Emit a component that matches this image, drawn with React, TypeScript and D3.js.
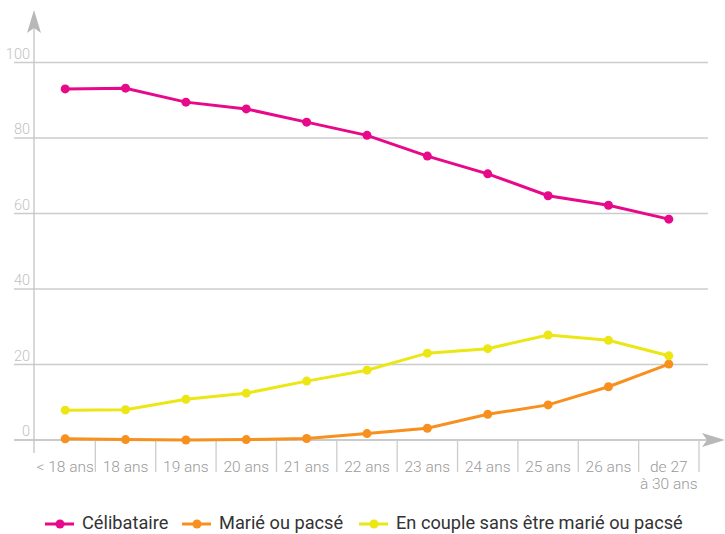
import * as d3 from "d3";

const categories = [
  "< 18 ans", "18 ans", "19 ans", "20 ans", "21 ans", "22 ans",
  "23 ans", "24 ans", "25 ans", "26 ans", "de 27|à 30 ans",
];
const celibataire = [93.0, 93.2, 89.5, 87.7, 84.2, 80.7, 75.2, 70.5, 64.7, 62.2, 58.5];
const marie = [0.3, 0.1, 0.0, 0.1, 0.4, 1.7, 3.1, 6.8, 9.3, 14.1, 20.1];
const enCouple = [7.9, 8.0, 10.8, 12.4, 15.6, 18.5, 23.0, 24.2, 27.8, 26.4, 22.3];
const yTicks = [0, 20, 40, 60, 80, 100];

const seriesList = [
  { name: "Célibataire", values: celibataire, color: "#e8088a" },
  { name: "Marié ou pacsé", values: marie, color: "#f7901e" },
  { name: "En couple sans être marié ou pacsé", values: enCouple, color: "#ece615" },
];

const W = 725;
const H = 534;
const font = "Roboto, 'DejaVu Sans', sans-serif";

export default function App() {
  const x = d3.scaleBand<string>().domain(categories).range([35, 699]);
  const y = d3.scaleLinear().domain([0, 100]).range([440, 62.5]);
  const cx = (i: number) => (x(categories[i]) ?? 0) + x.bandwidth() / 2;

  const line = d3.line<number>()
    .x((_, i) => cx(i))
    .y(d => y(d));

  const legendX = [45, 182, 359];

  return (
    <svg width={W} height={H} style={{ position: "absolute", left: 0, top: 0, background: "#fff" }}>
      {/* grid */}
      {yTicks.map(t => (
        <g key={t}>
          <line x1={14} x2={708} y1={y(t)} y2={y(t)} stroke="#cccccc" strokeWidth={1.3} />
          <text x={30} y={y(t) - 4} textAnchor="end" fontFamily={font} fontWeight={300}
            fontSize={14.5} fill="#c2c2c2">{t}</text>
        </g>
      ))}

      {/* y axis with arrow */}
      <line x1={34} x2={34} y1={26} y2={453} stroke="#c4c4c4" strokeWidth={1.3} />
      <path d="M34,10 L41,33 L34,28 L27,33 Z" fill="#b8b8b8" />

      {/* x axis with arrow */}
      <line x1={14} x2={712} y1={y(0)} y2={y(0)} stroke="#c4c4c4" strokeWidth={1.3} />
      <path d="M725,440 L702,447 L707,440 L702,433 Z" fill="#b8b8b8" />

      {/* category separators */}
      {categories.map(c => {
        const sx = (x(c) ?? 0) + x.bandwidth();
        return <line key={c} x1={sx} x2={sx} y1={440} y2={472} stroke="#cccccc" strokeWidth={1.3} />;
      })}

      {/* category labels */}
      {categories.map((c, i) => {
        const parts = c.split("|");
        return (
          <text key={c} x={cx(i)} y={472} textAnchor="middle" fontFamily={font} fontWeight={300}
            fontSize={15.5} fill="#9a9a9a">
            {parts.map((p, j) => (
              <tspan key={j} x={cx(i)} dy={j === 0 ? 0 : 17}>{p}</tspan>
            ))}
          </text>
        );
      })}

      {/* series */}
      {seriesList.map(s => (
        <g key={s.name}>
          <path d={line(s.values) ?? ""} fill="none" stroke={s.color} strokeWidth={3} />
          {s.values.map((v, i) => (
            <circle key={i} cx={cx(i)} cy={y(v)} r={4.5} fill={s.color} />
          ))}
        </g>
      ))}

      {/* legend */}
      {seriesList.map((s, i) => (
        <g key={s.name} transform={`translate(${legendX[i]},524)`}>
          <line x1={0} x2={29} y1={0} y2={0} stroke={s.color} strokeWidth={3} />
          <circle cx={15} cy={0} r={4.5} fill={s.color} />
          <text x={37} y={5} fontFamily={font} fontSize={18.2} fill="#333">{s.name}</text>
        </g>
      ))}
    </svg>
  );
}
